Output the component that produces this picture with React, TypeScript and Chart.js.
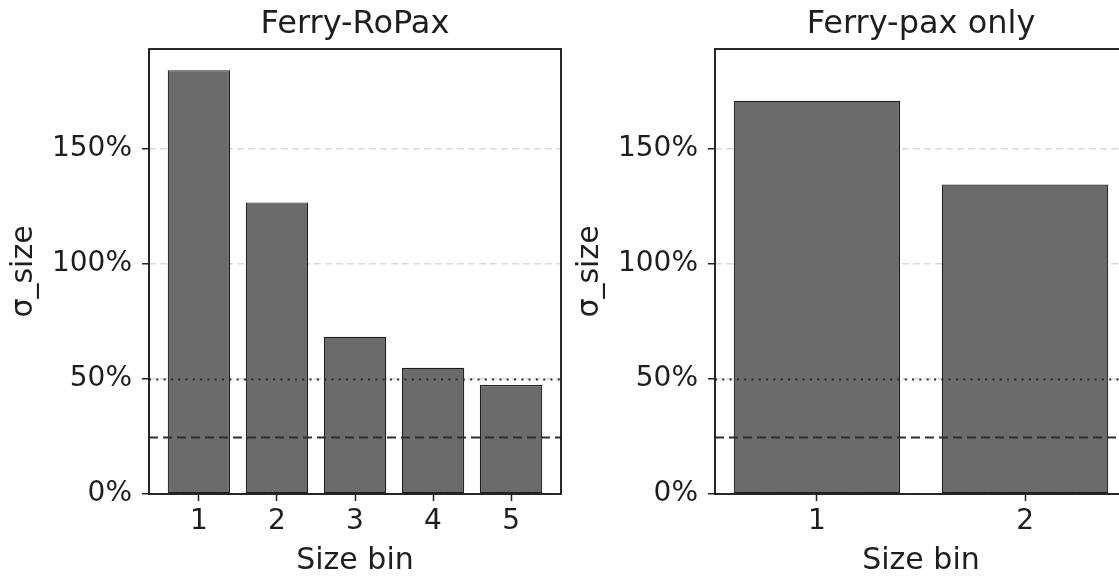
import React, { useEffect, useRef } from "react";
import { Chart, registerables } from "chart.js";

Chart.register(...registerables);

// ---- data ----
const ropaxBins = [1, 2, 3, 4, 5];
const ropaxSigma = [184.3, 126.8, 68.4, 54.9, 47.4];
const paxBins = [1, 2];
const paxSigma = [171.0, 134.6];
const yTickValues = [0, 50, 100, 150];
const yMax = 193.5;
const dottedRefValue = 50;
const dashedRefValue = 25;
const panelTitles = ["Ferry-RoPax", "Ferry-pax only"];
const xAxisTitle = "Size bin";
const yAxisTitle = "σ_size";

const FONT = "'DejaVu Sans', 'Noto Sans', sans-serif";
const TEXT = "#1e1e1e";

const panelPlugin = {
  id: "panelDecor",
  afterDatasetsDraw(chart: any) {
    const { ctx, chartArea: a, scales } = chart;
    const y = scales.y;
    ctx.save();
    ctx.beginPath();
    ctx.rect(a.left, a.top, a.right - a.left, a.bottom - a.top);
    ctx.clip();
    // dotted reference line
    const yd = Math.round(y.getPixelForValue(dottedRefValue)) + 0.5;
    ctx.strokeStyle = "#2a2a2a";
    ctx.lineWidth = 2;
    ctx.setLineDash([2, 5.3]);
    ctx.beginPath();
    ctx.moveTo(a.left, yd);
    ctx.lineTo(a.right, yd);
    ctx.stroke();
    // dashed reference line
    const ys = Math.round(y.getPixelForValue(dashedRefValue)) + 0.5;
    ctx.strokeStyle = "#2e2e2e";
    ctx.lineWidth = 2;
    ctx.setLineDash([9, 5]);
    ctx.beginPath();
    ctx.moveTo(a.left, ys);
    ctx.lineTo(a.right, ys);
    ctx.stroke();
    ctx.restore();
  },
  afterDraw(chart: any) {
    const { ctx, chartArea: a } = chart;
    ctx.save();
    ctx.strokeStyle = "#111";
    ctx.lineWidth = 1.8;
    ctx.setLineDash([]);
    ctx.strokeRect(a.left, a.top, a.right - a.left, a.bottom - a.top);
    // panel title, centred over the plot area
    const t = chart.options.plugins.panelDecor?.title;
    if (t) {
      ctx.fillStyle = TEXT;
      ctx.font = `32px ${FONT}`;
      ctx.textAlign = "center";
      ctx.textBaseline = "middle";
      ctx.fillText(t, (a.left + a.right) / 2, 25);
    }
    ctx.restore();
  },
};

function Panel(props: { bins: number[]; values: number[]; title: string; left: number }) {
  const ref = useRef<HTMLCanvasElement | null>(null);
  useEffect(() => {
    if (!ref.current) return;
    const { bins, values, title } = props;
    const lo = Math.min(...bins) - 0.4;
    const hi = Math.max(...bins) + 0.4;
    const m = (hi - lo) * 0.05;
    const chart = new Chart(ref.current, {
      type: "bar",
      data: {
        datasets: [
          {
            data: bins.map((b, i) => ({ x: b, y: values[i] })),
            backgroundColor: "#6b6b6b",
            borderColor: "#1f1f1f",
            borderWidth: 1.2,
            borderSkipped: false,
            barPercentage: 0.8,
            categoryPercentage: 1,
          },
        ],
      },
      options: {
        responsive: false,
        animation: false,
        layout: { padding: { left: 0, right: 9, top: 49, bottom: 0 } },
        plugins: {
          legend: { display: false },
          tooltip: { enabled: false },
          title: { display: false },
          panelDecor: { title },
        },
        scales: {
          x: {
            type: "linear",
            offset: false,
            min: lo - m,
            max: hi + m,
            afterBuildTicks: (s: any) => {
              s.ticks = bins.map((b) => ({ value: b }));
            },
            afterFit: (s: any) => {
              s.height = 85;
            },
            ticks: {
              color: TEXT,
              font: { family: FONT, size: 28 },
              padding: 4,
              callback: (v: any) => String(v),
            },
            grid: {
              offset: false,
              drawOnChartArea: false,
              drawTicks: true,
              tickLength: 7,
              tickColor: "#222",
              tickWidth: 1.5,
            },
            border: { display: false },
            title: {
              display: true,
              text: xAxisTitle,
              color: TEXT,
              font: { family: FONT, size: 30 },
              padding: { top: 0, bottom: 0 },
            },
          },
          y: {
            type: "linear",
            min: 0,
            max: yMax,
            afterBuildTicks: (s: any) => {
              s.ticks = yTickValues.map((v) => ({ value: v }));
            },
            afterFit: (s: any) => {
              s.width = 149;
            },
            ticks: {
              color: TEXT,
              font: { family: FONT, size: 28 },
              padding: 10,
              callback: (v: any) => `${v}%`,
            },
            grid: {
              color: "#d9d9d9",
              lineWidth: 1.5,
              drawTicks: true,
              tickLength: 7,
              tickColor: "#222",
              tickWidth: 1.5,
              tickBorderDash: [],
            },
            border: { display: false, dash: [7, 4] },
            title: {
              display: true,
              text: yAxisTitle,
              color: TEXT,
              font: { family: FONT, size: 30 },
              padding: { top: 6, bottom: 0 },
            },
          },
        },
      },
      plugins: [panelPlugin],
    } as any);
    return () => chart.destroy();
  }, []);
  return (
    <canvas
      ref={ref}
      width={570}
      height={579}
      style={{ position: "absolute", left: props.left, top: 0, width: 570, height: 579 }}
    />
  );
}

export default function App() {
  return (
    <div
      style={{
        position: "absolute",
        left: 0,
        top: 0,
        width: 1119,
        height: 579,
        overflow: "hidden",
        background: "#fff",
      }}
    >
      <Panel bins={ropaxBins} values={ropaxSigma} title={panelTitles[0]} left={0} />
      <Panel bins={paxBins} values={paxSigma} title={panelTitles[1]} left={566} />
    </div>
  );
}
